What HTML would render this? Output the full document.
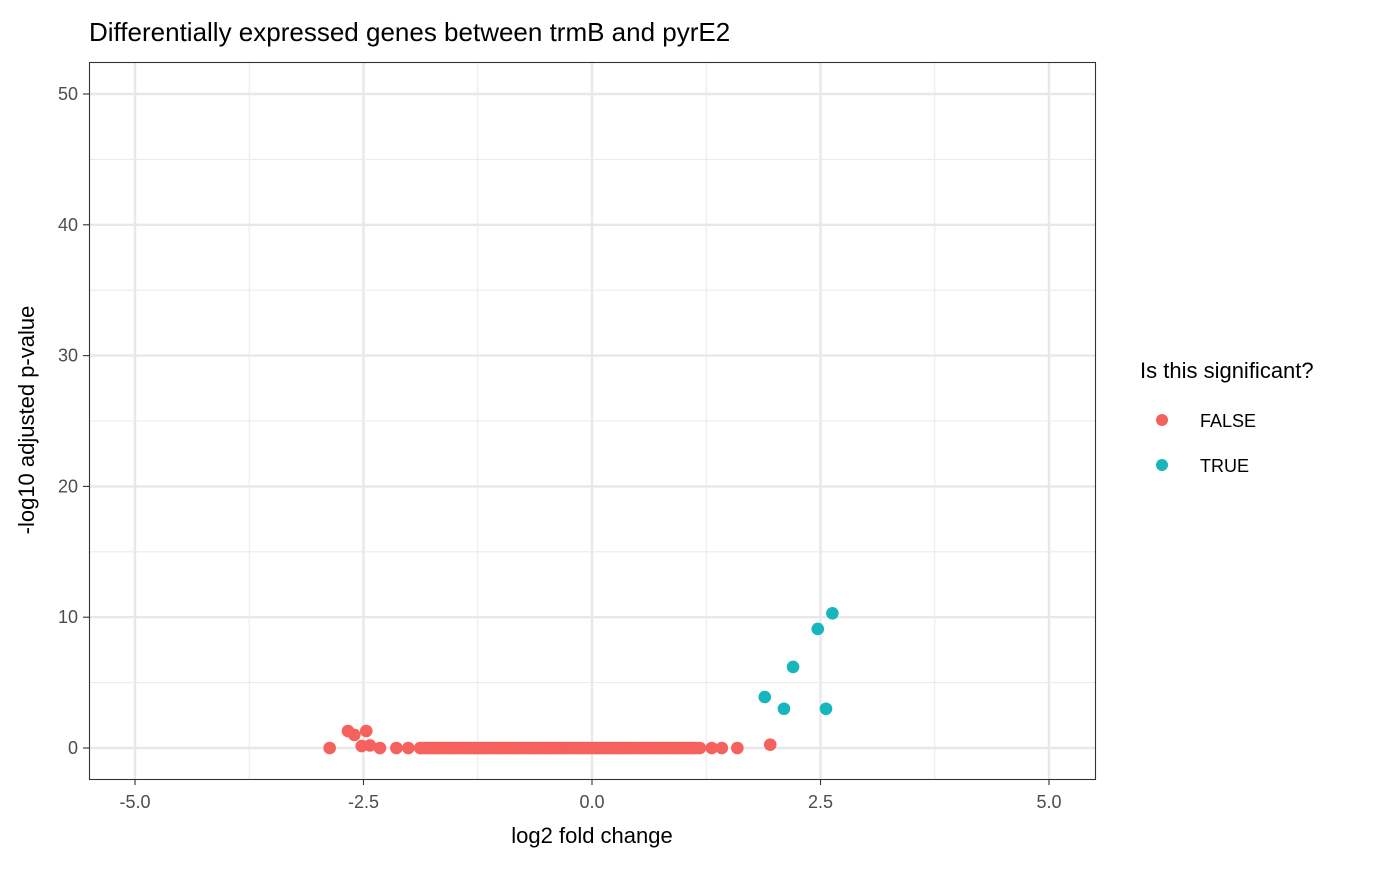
<!DOCTYPE html>
<html><head><meta charset="utf-8"><style>
body{margin:0;background:#fff;font-family:"Liberation Sans",Arial,sans-serif;}
svg text{font-family:"Liberation Sans",Arial,sans-serif;}
</style></head><body>
<svg id="chart" width="1400" height="865">
<text x="89" y="41" font-size="26" fill="#000">Differentially expressed genes between trmB and pyrE2</text>
<g id="grid"></g>
<g id="points"></g>
<rect x="89.5" y="62.5" width="1006" height="717" fill="none" stroke="#333" stroke-width="1.1"/>
<g id="axes"></g>
<text x="592" y="843" font-size="22" text-anchor="middle">log2 fold change</text>
<text transform="translate(34,420) rotate(-90)" font-size="22" text-anchor="middle">-log10 adjusted p-value</text>
<g>
<text x="1140" y="378" font-size="22">Is this significant?</text>
<g><circle cx="1162" cy="420" r="6" fill="#F5615C"/><text x="1200" y="427" font-size="18">FALSE</text></g>
<g><circle cx="1162" cy="465" r="6" fill="#17B6BC"/><text x="1200" y="472" font-size="18">TRUE</text></g>
</g>
</svg>
<script>
const xTicks=[-5,-2.5,0,2.5,5];
const xTickLabels=["-5.0","-2.5","0.0","2.5","5.0"];
const yTicks=[0,10,20,30,40,50];
const falseX=[-2.87,-2.67,-2.60,-2.47,-2.52,-2.43,-2.32,-2.14,-2.01,-1.88,-1.855,-1.83,-1.805,-1.78,-1.755,-1.73,-1.705,-1.68,-1.655,-1.63,-1.605,-1.58,-1.555,-1.53,-1.505,-1.48,-1.455,-1.43,-1.405,-1.38,-1.355,-1.33,-1.305,-1.28,-1.255,-1.23,-1.205,-1.18,-1.155,-1.13,-1.105,-1.08,-1.055,-1.03,-1.005,-0.98,-0.955,-0.93,-0.905,-0.88,-0.855,-0.83,-0.805,-0.78,-0.755,-0.73,-0.705,-0.68,-0.655,-0.63,-0.605,-0.58,-0.555,-0.53,-0.505,-0.48,-0.455,-0.43,-0.405,-0.38,-0.355,-0.33,-0.305,-0.28,-0.255,-0.23,-0.205,-0.18,-0.155,-0.13,-0.105,-0.08,-0.055,-0.03,-0.005,0.02,0.045,0.07,0.095,0.12,0.145,0.17,0.195,0.22,0.245,0.27,0.295,0.32,0.345,0.37,0.395,0.42,0.445,0.47,0.495,0.52,0.545,0.57,0.595,0.62,0.645,0.67,0.695,0.72,0.745,0.77,0.795,0.82,0.845,0.87,0.895,0.92,0.945,0.97,0.995,1.02,1.045,1.07,1.095,1.12,1.145,1.18,1.31,1.42,1.59,1.95];
const falseY=[0,1.3,1.0,1.3,0.15,0.2,0,0,0,0,0,0,0,0,0,0,0,0,0,0,0,0,0,0,0,0,0,0,0,0,0,0,0,0,0,0,0,0,0,0,0,0,0,0,0,0,0,0,0,0,0,0,0,0,0,0,0,0,0,0,0,0,0,0,0,0,0,0,0,0,0,0,0,0,0,0,0,0,0,0,0,0,0,0,0,0,0,0,0,0,0,0,0,0,0,0,0,0,0,0,0,0,0,0,0,0,0,0,0,0,0,0,0,0,0,0,0,0,0,0,0,0,0,0,0,0,0,0,0,0,0,0,0,0,0,0.25];
const trueX=[2.63,2.47,2.20,1.89,2.10,2.56];
const trueY=[10.3,9.1,6.2,3.9,3.0,3.0];
const sx=v=>592+v*91.4, sy=v=>748-v*13.08;
const NS='http://www.w3.org/2000/svg';
function mk(t,a,p){const e=document.createElementNS(NS,t);for(const k in a)e.setAttribute(k,a[k]);p.appendChild(e);return e;}
const grid=document.getElementById('grid'),axes=document.getElementById('axes'),pts=document.getElementById('points');
for(let i=0;i<xTicks.length;i++){
 const x=sx(xTicks[i]);
 if(i<xTicks.length-1){const xm=sx((xTicks[i]+xTicks[i+1])/2);const m=mk('line',{x1:xm,x2:xm,y1:62,y2:779,stroke:'#ebebeb','stroke-width':1.1},grid);
 
 }
 const g=mk('line',{x1:x,x2:x,y1:62,y2:779,stroke:'#e8e8e8','stroke-width':2.4},grid);
 
 
 mk('line',{x1:x,x2:x,y1:779,y2:785,stroke:'#333','stroke-width':1.1},axes);
 const t=mk('text',{x:x,y:808,'font-size':18,'text-anchor':'middle',fill:'#4d4d4d'},axes);t.textContent=xTickLabels[i];
 
 
}
for(let i=0;i<yTicks.length;i++){
 const y=sy(yTicks[i]);
 if(i<yTicks.length-1){const ym=sy((yTicks[i]+yTicks[i+1])/2);const m=mk('line',{x1:89,x2:1095,y1:ym,y2:ym,stroke:'#ebebeb','stroke-width':1.1},grid);
 
 }
 const g=mk('line',{x1:89,x2:1095,y1:y,y2:y,stroke:'#e8e8e8','stroke-width':2.4},grid);
 
 
 mk('line',{x1:83,x2:89,y1:y,y2:y,stroke:'#333','stroke-width':1.1},axes);
 const t=mk('text',{x:78,y:y+6,'font-size':18,'text-anchor':'end',fill:'#4d4d4d'},axes);t.textContent=yTicks[i];
 
 
}
for(let i=0;i<falseX.length;i++){const c=mk('circle',{cx:sx(falseX[i]),cy:sy(falseY[i]),r:6.3,fill:'#F5615C'},pts);
 
 }
for(let i=0;i<trueX.length;i++){const c=mk('circle',{cx:sx(trueX[i]),cy:sy(trueY[i]),r:6.3,fill:'#17B6BC'},pts);
 
 }
</script>
</body></html>
